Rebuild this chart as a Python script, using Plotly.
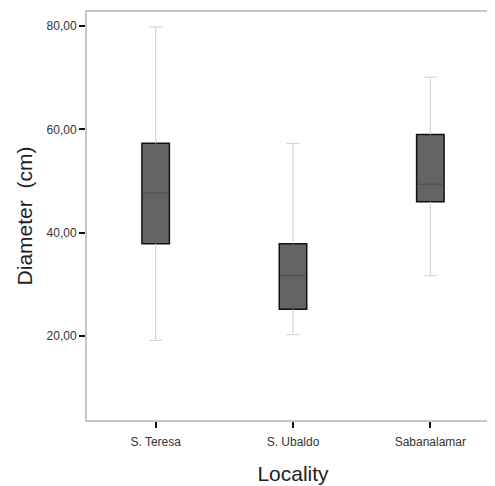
import plotly.graph_objects as go

localities = ["S. Teresa", "S. Ubaldo", "Sabanalamar"]
lower_whisker = [19.2, 20.3, 31.7]
q1 = [37.9, 25.2, 46.0]
median = [47.7, 31.7, 49.4]
q3 = [57.3, 37.9, 59.0]
upper_whisker = [79.8, 57.3, 70.1]
y_ticks = [20, 40, 60, 80]

pos = list(range(len(localities)))
box_w = 0.2
cap_w = 0.095

fig = go.Figure()

# boxes: dark fill, black outline (interquartile range)
fig.add_trace(go.Bar(
    x=pos, base=q1, y=[b - a for a, b in zip(q1, q3)],
    width=box_w,
    marker=dict(color="#646464", line=dict(color="#111111", width=1.5)),
    showlegend=False, hoverinfo="skip",
))

# whiskers and caps (light gray)
wx, wy = [], []
for p, lo, a, b, hi in zip(pos, lower_whisker, q1, q3, upper_whisker):
    wx += [p, p, None, p, p, None]
    wy += [b, hi, None, a, lo, None]
    wx += [p - cap_w / 2, p + cap_w / 2, None, p - cap_w / 2, p + cap_w / 2, None]
    wy += [hi, hi, None, lo, lo, None]
fig.add_trace(go.Scatter(
    x=wx, y=wy, mode="lines", line=dict(color="#cfcfcf", width=1),
    showlegend=False, hoverinfo="skip",
))

# medians (thin dark gray)
mx, my = [], []
for p, m in zip(pos, median):
    mx += [p - box_w / 2 + 0.01, p + box_w / 2 - 0.01, None]
    my += [m, m, None]
fig.add_trace(go.Scatter(
    x=mx, y=my, mode="lines", line=dict(color="#4a4a4a", width=1),
    showlegend=False, hoverinfo="skip",
))

font_family = "Liberation Sans, Arial, sans-serif"
fig.update_layout(
    width=495, height=486,
    margin=dict(l=79, r=4, t=2, b=74),
    paper_bgcolor="white", plot_bgcolor="white",
    separators=", ",
    font=dict(family=font_family, color="#222222"),
    xaxis=dict(
        range=[-0.5, 2.5], tickvals=pos, ticktext=localities,
        showgrid=False, zeroline=False,
        showline=True, linecolor="#c8c8c8", linewidth=2, mirror=True,
        ticks="outside", ticklen=6, tickwidth=2, tickcolor="#111111",
        ticklabelstandoff=4,
        tickfont=dict(size=12, color="#333333"),
        title=dict(text="Locality", font=dict(size=21, color="#222222"), standoff=18),
    ),
    yaxis=dict(
        range=[3.8, 82.7], tickvals=y_ticks, tickformat=".2f",
        showgrid=False, zeroline=False,
        showline=True, linecolor="#c8c8c8", linewidth=2, mirror=False,
        ticks="outside", ticklen=6, tickwidth=2, tickcolor="#111111",
        tickfont=dict(size=12, color="#333333"),
        title=dict(text="Diameter  (cm)", font=dict(size=21, color="#222222"), standoff=8),
    ),
)

fig.write_html("out.html")
